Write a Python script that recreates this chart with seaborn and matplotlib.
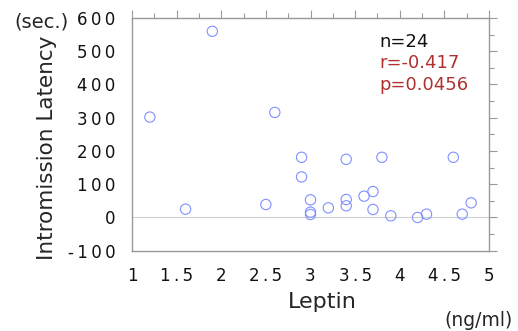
import matplotlib
matplotlib.use("Agg")
import matplotlib.pyplot as plt
import seaborn as sns
import pandas as pd
from matplotlib.ticker import MultipleLocator, FuncFormatter

leptin = [1.2, 1.9, 1.6, 2.5, 2.6, 2.9, 2.9, 3.0, 3.0, 3.0, 3.2, 3.4, 3.4, 3.4,
          3.6, 3.7, 3.7, 3.8, 3.9, 4.2, 4.3, 4.6, 4.7, 4.8]
latency = [302, 560, 25, 39, 316, 181, 122, 53, 16, 9, 29, 54, 35, 175,
           64, 78, 24, 181, 5, 0, 10, 181, 10, 44]
stats_lines = ["n=24", "r=-0.417", "p=0.0456"]

df = pd.DataFrame({"Leptin": leptin, "Latency": latency})

sns.set_style("white")
plt.rcParams['font.family'] = ['DejaVu Sans']

fig = plt.figure(figsize=(5.18, 3.31), dpi=100)
ax = fig.add_axes([132/518, 1 - 250.7/331, (489 - 132)/518, (250.7 - 18)/331])

ax.axhline(0, color="#d0d0d0", lw=0.8, zorder=0)
sns.scatterplot(data=df, x="Leptin", y="Latency", ax=ax, marker="o", s=55,
                facecolors="none", edgecolors="#8090ff", linewidth=0.8)

ax.set_xlim(1, 5)
ax.set_ylim(-100, 600)
ax.xaxis.set_major_locator(MultipleLocator(0.5))
ax.xaxis.set_minor_locator(MultipleLocator(0.25))
ax.yaxis.set_major_locator(MultipleLocator(100))
ax.yaxis.set_minor_locator(MultipleLocator(50))

def spaced(v, pos):
    s = ("%g" % v)
    return "\u2009".join(list(s))

ax.xaxis.set_major_formatter(FuncFormatter(spaced))
ax.yaxis.set_major_formatter(FuncFormatter(spaced))

for sp in ax.spines.values():
    sp.set_color("#999999")
    sp.set_linewidth(1.0)
ax.tick_params(which="both", direction="out", color="#999999", top=True, right=True,
               labeltop=False, labelright=False, labelsize=12, labelcolor="#111111")
ax.tick_params(which="major", length=6, width=0.8, pad=6)
ax.tick_params(which="minor", length=3.5, width=0.8)

ax.set_xlabel("")
ax.set_ylabel("")
fig.text(47/518, 1 - 148/331, "Intromission Latency", rotation=90, ha="center",
         va="center", fontsize=15.5)
fig.text(322/518, 1 - 302/331, "Leptin", ha="center", va="center", fontsize=16)
fig.text(478/518, 1 - 321/331, "(ng/ml)", ha="center", va="center", fontsize=13.5)
fig.text(42/518, 1 - 22/331, "(sec.)", ha="center", va="center", fontsize=14)

colors = ["#111111", "#b03030", "#b03030"]
for i, (t, c) in enumerate(zip(stats_lines, colors)):
    fig.text(379/518, 1 - (42 + 21.5 * i)/331, t, ha="left", va="center",
             fontsize=13, color=c)

fig.savefig("out.png", dpi=100)
